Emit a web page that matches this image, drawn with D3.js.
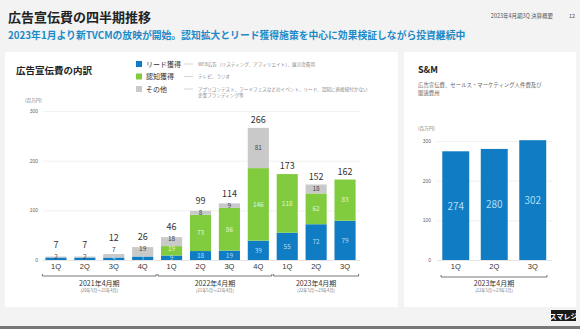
<!DOCTYPE html>
<html>
<head>
<meta charset="utf-8">
<script src="https://cdn.jsdelivr.net/npm/d3@7"></script>
<style>
  body { margin: 0; background: #f3f3f3; }
  svg { display: block; font-family: "Noto Sans CJK JP", "Noto Sans", sans-serif; }
</style>
</head>
<body>
<svg id="chart" width="580" height="329"></svg>
<script>
const quarters = ['1Q', '2Q', '3Q', '4Q', '1Q', '2Q', '3Q', '4Q', '1Q', '2Q', '3Q'];
const lead = [5, 5, 5, 7, 9, 18, 19, 39, 55, 72, 79];
const awareness = [0, 0, 0, 0, 19, 73, 86, 146, 118, 62, 83];
const other = [2, 2, 7, 19, 18, 8, 9, 81, 0, 18, 0];
const totals = [7, 7, 12, 26, 46, 99, 114, 266, 173, 152, 162];
const fiscalYears = [
  {name: '2021年4月期', sub: '(20年5月～21年4月)', from: 0, to: 3},
  {name: '2022年4月期', sub: '(21年5月～22年4月)', from: 4, to: 7},
  {name: '2023年4月期', sub: '(22年5月～23年4月)', from: 8, to: 10}
];
const yTicks = [0, 100, 200, 300];

const smQuarters = ['1Q', '2Q', '3Q'];
const smValues = [274, 280, 302];

const colors = {lead: '#0f7cc4', awareness: '#80cc3e', other: '#c9c9c9'};
const legendItems = [
  {key: 'lead', label: 'リード獲得', desc: ['WEB広告（リスティング、アフィリエイト）、展示会費用']},
  {key: 'awareness', label: '認知獲得', desc: ['テレビ、ラジオ']},
  {key: 'other', label: 'その他', desc: ['アプリコンテスト、フードフェスなどのイベント、リード、認知に直接紐付かない', '企業ブランディング等']}
];

const svg = d3.select('#chart');

// header
svg.append('text').attr('x', 8).attr('y', 22)
  .attr('font-size', 13).attr('font-weight', 700).attr('fill', '#222')
  .text('広告宣伝費の四半期推移');
svg.append('text').attr('x', 553).attr('y', 18).attr('text-anchor', 'end')
  .attr('font-size', 5.5).attr('fill', '#555').text('2023年4月期3Q 決算概要');
svg.append('text').attr('x', 575).attr('y', 18).attr('text-anchor', 'end')
  .attr('font-size', 5.5).attr('fill', '#555').text('12');
svg.append('text').attr('x', 8).attr('y', 39)
  .attr('font-size', 9.8).attr('font-weight', 700).attr('fill', '#1d8ac8')
  .text('2023年1月より新TVCMの放映が開始。認知拡大とリード獲得施策を中心に効果検証しながら投資継続中');

// panels
svg.append('rect').attr('x', 5).attr('y', 52).attr('width', 393).attr('height', 255).attr('fill', '#fff');
svg.append('rect').attr('x', 404).attr('y', 52).attr('width', 172).attr('height', 255).attr('fill', '#fff');

// footer
svg.append('rect').attr('x', 551).attr('y', 310).attr('width', 25).attr('height', 11).attr('fill', '#1a1a1a');
svg.append('text').attr('x', 563.5).attr('y', 318.5).attr('text-anchor', 'middle')
  .attr('font-size', 7).attr('font-weight', 700).attr('fill', '#fff').text('スマレジ');
svg.append('rect').attr('x', 0).attr('y', 326).attr('width', 580).attr('height', 3).attr('fill', '#777');

// ---------- left panel ----------
svg.append('text').attr('x', 16).attr('y', 74)
  .attr('font-size', 9.5).attr('font-weight', 700).attr('fill', '#222').text('広告宣伝費の内訳');

const legend = svg.append('g').selectAll('g').data(legendItems).join('g')
  .attr('transform', (d, i) => `translate(136,${64 + i * 12.5})`);
legend.append('rect').attr('x', 0).attr('y', -3).attr('width', 6).attr('height', 6)
  .attr('fill', d => colors[d.key]);
legend.append('text').attr('x', 10).attr('y', 2.5).attr('font-size', 7).attr('fill', '#333')
  .text(d => d.label);
legend.append('line').attr('x1', 48).attr('x2', 57).attr('y1', 0).attr('y2', 0)
  .attr('stroke', '#bbb').attr('stroke-width', 0.6);
legend.each(function(d) {
  d3.select(this).selectAll('text.desc').data(d.desc).join('text').attr('class', 'desc')
    .attr('x', 62).attr('y', (t, i) => 1.8 + i * 6.5).attr('font-size', 4.6).attr('fill', '#888')
    .text(t => t);
});

const data = quarters.map((q, i) => ({i, q, lead: lead[i], awareness: awareness[i], other: other[i], total: totals[i]}));

const x = d3.scaleBand().domain(d3.range(quarters.length)).range([41.5, 359.5]).paddingInner(0.27).paddingOuter(0.135);
const y = d3.scaleLinear().domain([0, 300]).range([260, 111]);

svg.append('text').attr('x', 25).attr('y', 102).attr('font-size', 4.6).attr('fill', '#777').text('(百万円)');

const yAxis = svg.append('g').attr('transform', 'translate(43,0)')
  .call(d3.axisLeft(y).tickValues(yTicks).tickSize(0).tickPadding(5))
  .call(g => g.select('.domain').remove());
yAxis.selectAll('text').attr('font-size', 5).attr('fill', '#666').attr('font-family', null);
yAxis.selectAll('.tick').append('line').attr('x1', 0).attr('x2', 317)
  .attr('stroke', '#eee').attr('stroke-width', 0.8);

const series = d3.stack().keys(['lead', 'awareness', 'other'])(data);

svg.append('g').selectAll('g').data(series).join('g')
  .attr('fill', s => colors[s.key])
  .selectAll('rect').data(s => s).join('rect')
    .attr('x', d => x(d.data.i)).attr('width', x.bandwidth())
    .attr('y', d => y(d[1])).attr('height', d => y(d[0]) - y(d[1]));

// segment labels, pushed upward when segments are too thin to hold them
const labelColor = {lead: '#b4dcf2', awareness: '#e2f4cf', other: '#444'};
const segLabels = [];
const totalY = [];
data.forEach(d => {
  let prev = Infinity;
  series.forEach(s => {
    const p = s[d.i];
    const v = p[1] - p[0];
    if (v <= 0) return;
    // the thinnest 2021 bars only carry the "other" label
    if (s.key === 'lead' && v <= 5 && d.other <= 2) return;
    const base = Math.min((y(p[0]) + y(p[1])) / 2 + 2.3, prev - 9.5);
    segLabels.push({key: s.key, v, i: d.i, y: base});
    prev = base;
  });
  totalY[d.i] = Math.min(y(d.total) - 5, prev - 11);
});

svg.append('g').selectAll('text').data(segLabels).join('text')
  .attr('x', d => x(d.i) + x.bandwidth() / 2)
  .attr('y', d => d.y)
  .attr('text-anchor', 'middle').attr('font-size', 6.5)
  .attr('fill', d => labelColor[d.key])
  .text(d => d.v);

svg.append('g').selectAll('text').data(data).join('text')
  .attr('x', d => x(d.i) + x.bandwidth() / 2).attr('y', d => totalY[d.i])
  .attr('text-anchor', 'middle').attr('font-size', 9).attr('fill', '#333')
  .text(d => d.total);

const xAxis = svg.append('g').attr('transform', 'translate(0,260)')
  .call(d3.axisBottom(x).tickFormat(i => quarters[i]).tickSize(0).tickPadding(4));
xAxis.select('.domain').attr('stroke', '#ddd').attr('stroke-width', 0.6);
xAxis.selectAll('text').attr('font-size', 7.5).attr('fill', '#333').attr('font-family', null);

function bracket(g, x0, x1, yy) {
  g.append('path').attr('d', `M${x0},${yy - 2}V${yy}H${x1}V${yy - 2}`)
    .attr('fill', 'none').attr('stroke', '#555').attr('stroke-width', 0.8);
}

fiscalYears.forEach(fy => {
  const x0 = x(fy.from) - 3, x1 = x(fy.to) + x.bandwidth() + 3;
  bracket(svg, x0, x1, 276);
  svg.append('text').attr('x', (x0 + x1) / 2).attr('y', 286).attr('text-anchor', 'middle')
    .attr('font-size', 7).attr('fill', '#333').text(fy.name);
  svg.append('text').attr('x', (x0 + x1) / 2).attr('y', 292).attr('text-anchor', 'middle')
    .attr('font-size', 4.2).attr('fill', '#777').text(fy.sub);
});

// ---------- right panel ----------
svg.append('text').attr('x', 418).attr('y', 73)
  .attr('font-size', 9).attr('font-weight', 700).attr('fill', '#222').text('S&M');
svg.append('text').attr('x', 418).attr('y', 87).attr('font-size', 5.4).attr('fill', '#666')
  .text('広告宣伝費、セールス・マーケティング人件費及び');
svg.append('text').attr('x', 418).attr('y', 94.5).attr('font-size', 5.4).attr('fill', '#666')
  .text('関連費用');
svg.append('text').attr('x', 418).attr('y', 130).attr('font-size', 4.6).attr('fill', '#777').text('(百万円)');

const x2 = d3.scaleBand().domain(smQuarters).range([436.5, 552]).paddingInner(0.3).paddingOuter(0.15);
const y2 = d3.scaleLinear().domain([0, 300]).range([260, 141]);

const yAxis2 = svg.append('g').attr('transform', 'translate(437,0)')
  .call(d3.axisLeft(y2).tickValues(yTicks).tickSize(0).tickPadding(6))
  .call(g => g.select('.domain').remove());
yAxis2.selectAll('text').attr('font-size', 5).attr('fill', '#666').attr('font-family', null);
yAxis2.selectAll('.tick').append('line').attr('x1', 0).attr('x2', 115)
  .attr('stroke', '#eee').attr('stroke-width', 0.8);

const smData = smQuarters.map((q, i) => ({q, v: smValues[i]}));
svg.append('g').selectAll('rect').data(smData).join('rect')
  .attr('x', d => x2(d.q)).attr('width', x2.bandwidth())
  .attr('y', d => y2(d.v)).attr('height', d => y2(0) - y2(d.v))
  .attr('fill', colors.lead);
svg.append('g').selectAll('text').data(smData).join('text')
  .attr('x', d => x2(d.q) + x2.bandwidth() / 2).attr('y', d => (y2(0) + y2(d.v)) / 2 + 4)
  .attr('text-anchor', 'middle').attr('font-size', 10).attr('fill', '#b4dcf2')
  .text(d => d.v);

const xAxis2 = svg.append('g').attr('transform', 'translate(0,260)')
  .call(d3.axisBottom(x2).tickSize(0).tickPadding(4));
xAxis2.select('.domain').attr('stroke', '#ddd').attr('stroke-width', 0.6);
xAxis2.selectAll('text').attr('font-size', 7.5).attr('fill', '#333').attr('font-family', null);

bracket(svg, 441, 547, 277);
svg.append('text').attr('x', 494).attr('y', 286).attr('text-anchor', 'middle')
  .attr('font-size', 7).attr('fill', '#333').text('2023年4月期');
svg.append('text').attr('x', 494).attr('y', 292).attr('text-anchor', 'middle')
  .attr('font-size', 4.2).attr('fill', '#777').text('(22年5月～23年1月)');
</script>
</body>
</html>
